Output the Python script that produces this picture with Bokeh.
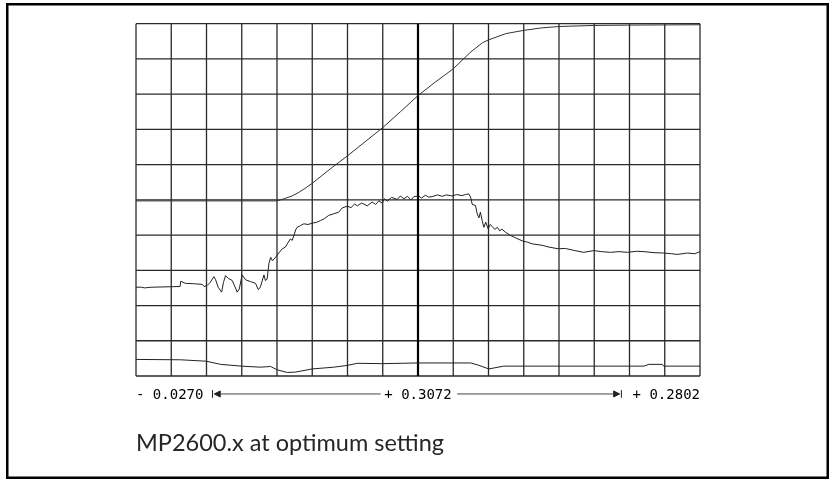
from bokeh.plotting import figure
from bokeh.models import Range1d, Arrow, NormalHead
from bokeh.core.properties import value
from bokeh.embed import file_html
from bokeh.resources import INLINE

# ---- data (grid divisions: 16 across, 10 up) ----
grid_x = list(range(0, 17))
grid_y = list(range(0, 11))

top_x = [0, 4.0, 4.2, 4.4, 4.6, 4.8, 5.0, 5.5, 6.0, 6.5, 7.0, 7.5, 8.0,
         8.5, 9.0, 9.5, 9.83, 10.0, 10.5, 11.0, 11.5, 12.0, 13.0, 14.0, 16.0]
top_y = [4.97, 4.97, 5.03, 5.10, 5.20, 5.33, 5.47, 5.87, 6.25, 6.65, 7.05, 7.5, 7.96,
         8.35, 8.72, 9.20, 9.46, 9.54, 9.72, 9.81, 9.88, 9.92, 9.95, 9.96, 9.97]

mid_x = [0, 0.15, 0.25, 0.32, 0.45, 1.25, 1.27, 1.40, 1.63, 1.88,
         1.93, 2.02, 2.10, 2.21, 2.26, 2.33, 2.43, 2.48, 2.54, 2.62,
         2.73, 2.80, 2.87, 2.93, 3.01, 3.11, 3.25, 3.39, 3.47, 3.53,
         3.58, 3.63, 3.67, 3.72, 3.77, 3.82, 3.87, 3.96, 4.05, 4.15,
         4.24, 4.29, 4.38, 4.43, 4.48, 4.53, 4.57, 4.67, 4.76, 4.88,
         5.00, 5.12, 5.23, 5.35, 5.47, 5.60, 5.75, 5.85, 5.99, 6.10,
         6.20, 6.28, 6.40, 6.56, 6.70, 6.80, 6.89, 6.98, 7.05, 7.13,
         7.25, 7.41, 7.50, 7.60, 7.70, 7.80, 7.88, 8.02, 8.10, 8.21,
         8.30, 8.40, 8.55, 8.69, 8.80, 8.97, 9.10, 9.25, 9.35, 9.44,
         9.49, 9.54, 9.63, 9.68, 9.73, 9.77, 9.82, 9.87, 9.92, 9.99,
         10.05, 10.11, 10.18, 10.25, 10.32, 10.38, 10.48, 10.55, 10.62, 10.77,
         10.97, 11.10, 11.24, 11.52, 11.71, 11.98, 12.18, 12.45, 12.70, 12.99,
         13.20, 13.46, 13.70, 13.94, 14.20, 14.41, 14.70, 14.97, 15.20, 15.35,
         15.64, 15.85, 16.0]
mid_y = [2.52, 2.52, 2.50, 2.51, 2.52, 2.54, 2.69, 2.63, 2.62, 2.60,
         2.54, 2.57, 2.65, 2.82, 2.73, 2.52, 2.38, 2.65, 2.85, 2.77,
         2.71, 2.55, 2.38, 2.47, 2.87, 2.73, 2.68, 2.63, 2.45, 2.53,
         2.70, 2.87, 2.71, 2.75, 3.19, 3.37, 3.27, 3.37, 3.49, 3.61,
         3.66, 3.75, 3.89, 3.85, 3.99, 4.15, 4.22, 4.27, 4.32, 4.30,
         4.34, 4.36, 4.41, 4.47, 4.56, 4.60, 4.65, 4.77, 4.82, 4.78,
         4.88, 4.83, 4.91, 4.83, 4.94, 4.87, 4.97, 4.91, 5.03, 4.96,
         5.07, 5.01, 5.11, 5.03, 5.10, 5.00, 5.09, 5.11, 5.05, 5.13,
         5.08, 5.09, 5.14, 5.10, 5.14, 5.11, 5.15, 5.12, 5.15, 5.17,
         5.08, 4.87, 4.84, 4.60, 4.49, 4.65, 4.41, 4.22, 4.37, 4.18,
         4.30, 4.24, 4.16, 4.22, 4.12, 4.17, 4.08, 4.04, 3.99, 3.92,
         3.83, 3.80, 3.75, 3.71, 3.66, 3.61, 3.62, 3.56, 3.51, 3.56,
         3.53, 3.51, 3.53, 3.51, 3.54, 3.53, 3.50, 3.49, 3.47, 3.45,
         3.49, 3.47, 3.53]

low_x = [0, 1.26, 1.99, 2.40, 2.99, 3.53, 3.82, 3.99, 4.29, 4.52, 5.0, 5.61,
         5.99, 6.28, 6.98, 7.98, 9.49, 9.68, 10.01, 10.43, 14.41, 14.55, 14.93,
         14.97, 16.0]
low_y = [0.47, 0.46, 0.42, 0.33, 0.28, 0.25, 0.27, 0.18, 0.10, 0.11, 0.20, 0.25,
         0.30, 0.36, 0.35, 0.37, 0.37, 0.32, 0.20, 0.28, 0.28, 0.33, 0.33,
         0.28, 0.28]

scale_labels = ["- 0.0270", "+ 0.3072", "+ 0.2802"]
scale_label_x = [0, 8, 16]
caption = "MP2600.x at optimum setting"

# ---- figure ----
p = figure(width=823, height=476,
           x_range=Range1d(-3.674, 19.674), y_range=Range1d(-2.938, 10.573),
           output_backend="svg", toolbar_location=None,
           x_axis_location=None, y_axis_location=None, min_border=0)
p.xgrid.visible = False
p.ygrid.visible = False
p.background_fill_color = "white"
p.border_fill_color = "white"
p.outline_line_color = "black"
p.outline_line_width = 4
p.styles = {"position": "fixed", "left": "6px", "top": "3px"}

grid_col = "#2a2a2a"
p.segment(x0=grid_x, y0=grid_y[0], x1=grid_x, y1=grid_y[-1],
          line_color=grid_col, line_width=1.3)
p.segment(x0=grid_x[0], y0=grid_y, x1=grid_x[-1], y1=grid_y,
          line_color=grid_col, line_width=1.3)
mid = grid_x[len(grid_x) // 2]
p.segment(x0=[mid], y0=grid_y[0], x1=[mid], y1=grid_y[-1],
          line_color="black", line_width=2.2)

p.line(top_x, top_y, line_color="#333333", line_width=1)
p.line(mid_x, mid_y, line_color="#222222", line_width=1)
p.line(low_x, low_y, line_color="#222222", line_width=1)

ly = -0.51
mono = value("DejaVu Sans Mono")
for lab, lx, al in zip(scale_labels, scale_label_x, ["left", "center", "right"]):
    p.text(x=[lx], y=[ly], text=[lab], text_align=al, text_baseline="middle",
           text_font=mono, text_font_size="14px", text_color="black")

# span arrows between the labels
arrow_l = (6.94, 2.22)
arrow_r = (9.11, 13.72)
for a in (arrow_l, arrow_r):
    p.add_layout(Arrow(end=NormalHead(size=6, fill_color="#222222", line_color="#222222"),
                       x_start=a[0], y_start=ly, x_end=a[1], y_end=ly,
                       line_color="#444444", line_width=1))
p.segment(x0=[arrow_l[1] - 0.05, arrow_r[1] + 0.05], y0=ly - 0.11,
          x1=[arrow_l[1] - 0.05, arrow_r[1] + 0.05], y1=ly + 0.11,
          line_color="#222222", line_width=1)

p.text(x=[0], y=[-1.86], text=[caption], text_align="left", text_baseline="alphabetic",
       text_font=value("Lato"), text_font_size="23.5px", text_color="#262626")

open("out.html", "w").write(file_html(p, INLINE))
